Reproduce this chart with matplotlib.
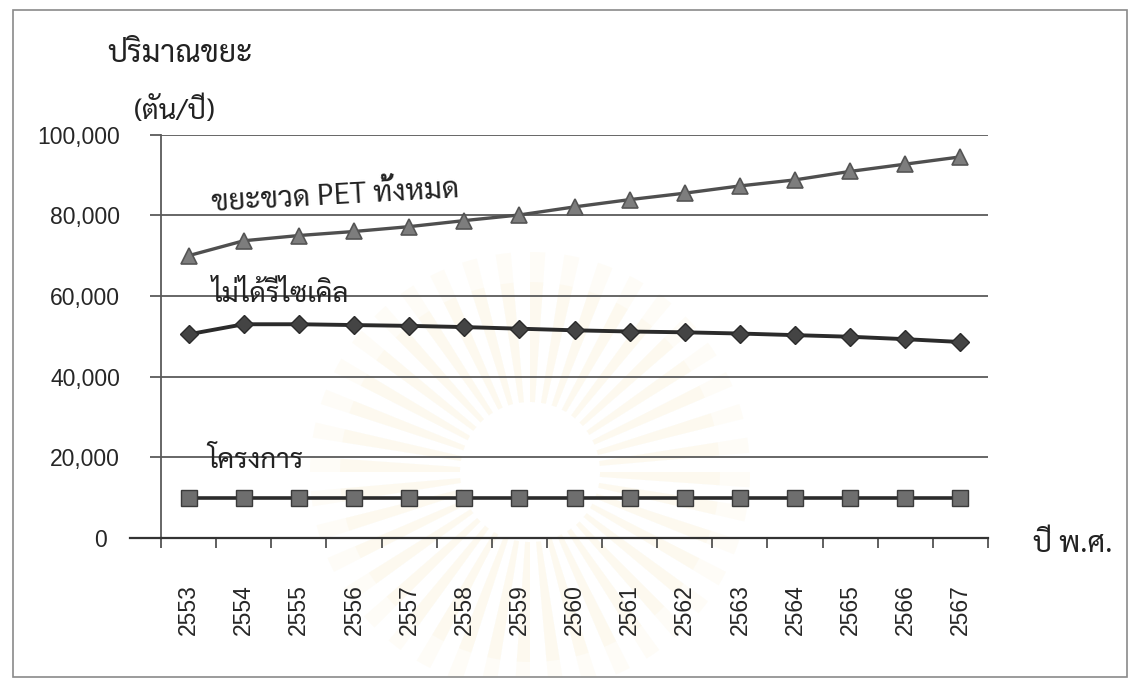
import numpy as np
import matplotlib
matplotlib.use("Agg")
import matplotlib.pyplot as plt
from matplotlib.patches import Rectangle, Wedge, Circle

# Data (tons per year), Buddhist-era years
years = ["2553", "2554", "2555", "2556", "2557", "2558", "2559", "2560",
         "2561", "2562", "2563", "2564", "2565", "2566", "2567"]
pet_total = [70000, 73700, 75000, 76000, 77200, 78700, 80100, 82100,
             83900, 85500, 87300, 88800, 90900, 92700, 94500]
not_recycled = [50500, 53000, 53000, 52800, 52600, 52300, 51900, 51500,
                51200, 51000, 50700, 50300, 49900, 49300, 48600]
project = [10000] * 15
y_ticks = [0, 20000, 40000, 60000, 80000, 100000]
y_tick_labels = ["0", "20,000", "40,000", "60,000", "80,000", "100,000"]

THAI = ["Sarabun", "Noto Sans Thai Looped", "Noto Sans Thai", "Thasadith", "DejaVu Sans"]
NUM = ["Liberation Sans", "DejaVu Sans"]

W, H = 1132, 678
fig = plt.figure(figsize=(W / 100, H / 100), dpi=100)
fig.patch.set_facecolor("white")


def fx(px):
    return px / W


def fy(py):
    return 1 - py / H


# Background layer in pixel units: faint sun-ray seal and outer frame
bg = fig.add_axes([0, 0, 1, 1], zorder=0)
bg.set_xlim(0, W)
bg.set_ylim(H, 0)
bg.axis("off")
cx, cy = 530, 472
for k in range(40):
    a0 = k * 9
    for r_out, w, al in ((220, 150, 0.06), (190, 120, 0.06)):
        bg.add_patch(Wedge((cx, cy), r_out, a0, a0 + 4.0, width=w,
                           facecolor="#efd37c", edgecolor="none", alpha=al))
bg.add_patch(Circle((cx, cy), 66, facecolor="white", edgecolor="none"))
bg.add_patch(Rectangle((13, 10), 1114, 667, fill=False, edgecolor="#8a8a8a", lw=1.2))

ax = fig.add_axes([fx(161), fy(538), fx(988) - fx(161), fy(134.7) - fy(538)], zorder=1)
ax.set_facecolor("none")
x = np.arange(len(years))

ax.plot(x, pet_total, color="#4f4f4f", lw=2.4, marker="^", markersize=12,
        markerfacecolor="#7d7d7d", markeredgecolor="#555555", markeredgewidth=1.2, zorder=4)
ax.plot(x, not_recycled, color="#2b2b2b", lw=2.8, marker="D", markersize=9.5,
        markerfacecolor="#444444", markeredgecolor="#2b2b2b", markeredgewidth=1.0, zorder=4)
ax.plot(x, project, color="#2b2b2b", lw=2.6, marker="s", markersize=11,
        markerfacecolor="#6e6e6e", markeredgecolor="#3a3a3a", markeredgewidth=1.0, zorder=4)

ax.set_xlim(-0.5, len(years) - 0.5)
ax.set_ylim(0, 100000)

# Horizontal gridlines with outward tick stubs
ax.set_yticks(y_ticks, y_tick_labels)
ax.yaxis.grid(True, color="#5a5a5a", lw=1.3)
ax.set_axisbelow(True)
ax.tick_params(axis="y", length=8, width=1.3, color="#5a5a5a", pad=21.5,
               labelsize=16.5, labelcolor="#262626")
for lbl in ax.get_yticklabels():
    lbl.set_family(NUM)
ax.yaxis.get_major_ticks()[0].set_pad(31)

# Category axis: labels at centres, ticks at boundaries
ax.set_xticks(x, years)
ax.set_xticks(np.arange(-0.5, len(years)), minor=True)
ax.tick_params(axis="x", which="major", length=0, pad=33, labelsize=16.5,
               labelrotation=90, labelcolor="#262626")
ax.tick_params(axis="x", which="minor", length=7.5, width=1.2, color="#444444")
for lbl in ax.get_xticklabels():
    lbl.set_family(NUM)

for side in ("top", "right"):
    ax.spines[side].set_visible(False)
ax.spines["left"].set_color("#5a5a5a")
ax.spines["left"].set_linewidth(1.3)
ax.spines["bottom"].set_color("#333333")
ax.spines["bottom"].set_linewidth(1.6)
ax.plot([-31 / 827, 0], [0, 0], transform=ax.transAxes, color="#333333",
        lw=1.6, clip_on=False)

# Series labels
ax.text(0.42, 81000, "ขยะขวด PET ทั้งหมด", family=THAI, fontsize=21,
        rotation=3.2, rotation_mode="anchor", ha="left", va="baseline", color="#222222")
ax.text(0.42, 58600, "ไม่ได้รีไซเคิล", family=THAI, fontsize=20,
        ha="left", va="baseline", color="#222222")
ax.text(0.33, 17400, "โครงการ", family=THAI, fontsize=20,
        ha="left", va="baseline", color="#222222")

# Axis titles
fig.text(fx(107), fy(62), "ปริมาณขยะ", family=THAI, fontsize=22,
         ha="left", va="baseline", color="#222222")
fig.text(fx(134), fy(119), "(ตัน/ปี)", family=THAI, fontsize=20,
         ha="left", va="baseline", color="#222222")
fig.text(fx(1033), fy(552), "ปี พ.ศ.", family=THAI, fontsize=21,
         ha="left", va="baseline", color="#222222")

fig.savefig("out.png", dpi=100, facecolor="white")
